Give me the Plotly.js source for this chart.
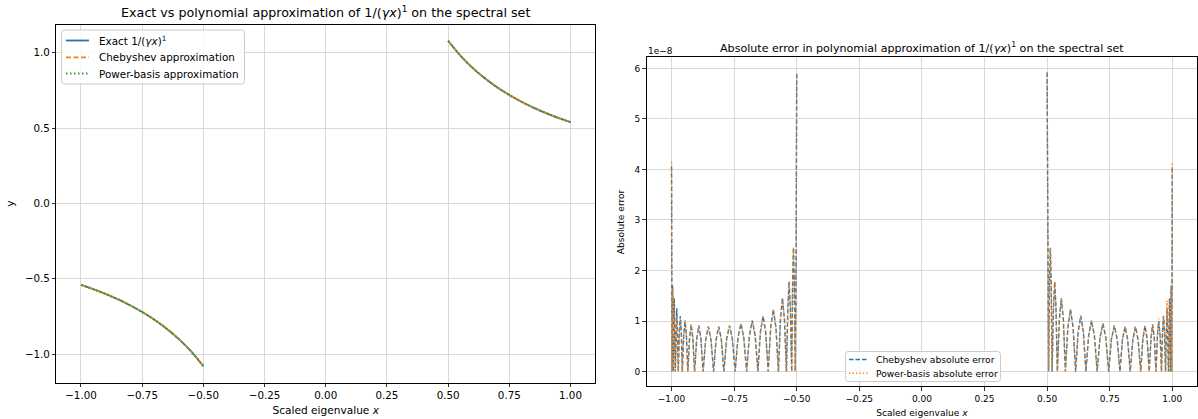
<!DOCTYPE html>
<html>
<head>
<meta charset="utf-8">
<script src="https://cdn.plot.ly/plotly-3.0.1.min.js"></script>
<style>
html,body{margin:0;padding:0;background:#fff;overflow:hidden;}
#chart{width:1198px;height:419px;}
</style>
</head>
<body>
<div id="chart"></div>
<script>
// ---------- Left panel: function values ----------
const curveX_neg = [-1.00,-0.95,-0.90,-0.85,-0.80,-0.75,-0.70,-0.65,-0.60,-0.55,-0.50];
const curveX_pos = [0.50,0.55,0.60,0.65,0.70,0.75,0.80,0.85,0.90,0.95,1.00];
const exactY_neg = [-0.540,-0.568,-0.600,-0.635,-0.675,-0.720,-0.771,-0.831,-0.900,-0.982,-1.080];
const exactY_pos = [1.080,0.982,0.900,0.831,0.771,0.720,0.675,0.635,0.600,0.568,0.540];
const chebY_neg  = [-0.540,-0.568,-0.600,-0.635,-0.675,-0.720,-0.771,-0.831,-0.900,-0.982,-1.080];
const chebY_pos  = [1.080,0.982,0.900,0.831,0.771,0.720,0.675,0.635,0.600,0.568,0.540];
const powY_neg   = [-0.540,-0.568,-0.600,-0.635,-0.675,-0.720,-0.771,-0.831,-0.900,-0.982,-1.080];
const powY_pos   = [1.080,0.982,0.900,0.831,0.771,0.720,0.675,0.635,0.600,0.568,0.540];

// ---------- Right panel: absolute errors (units of 1e-8) ----------
const errX_neg = [-1.000,-0.998,-0.9955,-0.993,-0.989,-0.985,-0.979,-0.973,
  -0.969,-0.965,-0.961,-0.957,
  -0.9515,-0.946,-0.9405,-0.935,
  -0.928,-0.9215,-0.915,-0.908,
  -0.8995,-0.891,-0.8825,-0.874,
  -0.8635,-0.853,-0.8425,-0.832,
  -0.822,-0.8115,-0.801,-0.791,
  -0.780,-0.7685,-0.757,-0.746,
  -0.7345,-0.723,-0.7115,-0.700,
  -0.689,-0.6775,-0.666,-0.655,
  -0.645,-0.6345,-0.624,-0.614,
  -0.604,-0.5935,-0.583,-0.573,
  -0.565,-0.557,-0.549,-0.541,
  -0.5355,-0.5305,-0.5255,-0.520,
  -0.5165,-0.513,-0.5095,-0.506,
  -0.5025,-0.500];
const chebErr_neg = [4.05,0,1.70,0,1.45,0,1.25,0,
  0.78,1.10,0.78,0,
  0.70,1.00,0.70,0,
  0.66,0.93,0.66,0,
  0.64,0.91,0.64,0,
  0.63,0.89,0.63,0,
  0.63,0.89,0.63,0,
  0.64,0.91,0.64,0,
  0.67,0.95,0.67,0,
  0.71,1.01,0.71,0,
  0.78,1.10,0.78,0,
  0.87,1.23,0.87,0,
  1.03,1.45,1.03,0,
  1.26,1.78,1.26,0,
  1.73,2.45,1.73,0,
  2.20,5.92];
const powErr_neg = [4.15,0,1.62,0,1.42,0,1.05,0,
  0.80,1.05,0.80,0,
  0.72,1.02,0.72,0,
  0.66,0.94,0.66,0,
  0.64,0.91,0.64,0,
  0.63,0.89,0.63,0,
  0.63,0.89,0.63,0,
  0.64,0.91,0.64,0,
  0.67,0.95,0.67,0,
  0.71,1.01,0.71,0,
  0.78,1.10,0.78,0,
  0.87,1.23,0.87,0,
  1.03,1.45,1.03,0,
  1.26,1.78,1.26,0,
  1.73,2.45,1.73,0,
  2.20,5.92];

const errX_pos = [0.500,0.5025,
  0.506,0.5095,0.513,0.5165,
  0.520,0.5255,0.5305,0.5355,
  0.541,0.549,0.557,0.565,
  0.573,0.583,0.5935,0.604,
  0.614,0.624,0.6345,0.645,
  0.655,0.666,0.6775,0.689,
  0.700,0.7115,0.723,0.7345,
  0.746,0.757,0.7685,0.780,
  0.791,0.801,0.8115,0.822,
  0.832,0.8425,0.853,0.8635,
  0.874,0.8825,0.891,0.8995,
  0.908,0.915,0.9215,0.928,
  0.935,0.9405,0.946,0.9515,
  0.957,0.961,0.965,0.969,
  0.973,0.979,0.985,0.989,0.993,0.9955,0.998,1.000];
const chebErr_pos = [5.92,2.20,
  0,1.73,2.45,1.73,
  0,1.26,1.78,1.26,
  0,1.03,1.45,1.03,
  0,0.87,1.23,0.87,
  0,0.78,1.10,0.78,
  0,0.71,1.01,0.71,
  0,0.67,0.95,0.67,
  0,0.64,0.91,0.64,
  0,0.63,0.89,0.63,
  0,0.63,0.89,0.63,
  0,0.64,0.91,0.64,
  0,0.66,0.93,0.66,
  0,0.70,1.00,0.70,
  0,0.78,1.10,0.78,
  0,1.25,0,1.45,0,1.70,0,4.05];
const powErr_pos = [5.92,2.20,
  0,1.73,2.45,1.73,
  0,1.26,1.78,1.26,
  0,1.03,1.45,1.03,
  0,0.87,1.23,0.87,
  0,0.78,1.10,0.78,
  0,0.71,1.01,0.71,
  0,0.67,0.95,0.67,
  0,0.64,0.91,0.64,
  0,0.63,0.89,0.63,
  0,0.63,0.89,0.63,
  0,0.64,0.91,0.64,
  0,0.66,0.94,0.66,
  0,0.72,1.05,0.72,
  0,0.82,1.12,0.82,
  0,1.40,0,1.42,0,1.62,0,4.12];

const leftNames  = ['Exact 1/(<i>γx</i>)<sup>1</sup>', 'Chebyshev approximation', 'Power-basis approximation'];
const rightNames = ['Chebyshev absolute error', 'Power-basis absolute error'];

const joinXY = (a, b) => a.concat([null], b);

const BLUE = '#1f77b4', ORANGE = '#ff7f0e', GREEN = '#2ca02c';
const FONT = 'DejaVu Sans, sans-serif';
const W = 1198, H = 419;
const px = v => v / W, py = v => 1 - v / H;

const leftStyles = [
  {color: BLUE, width: 1.8, dash: 'solid'},
  {color: ORANGE, width: 1.8, dash: '5px,2.5px'},
  {color: GREEN, width: 1.8, dash: '1.5px,2.5px'}
];
const rightStyles = [
  {color: BLUE, width: 1.4, dash: '4.5px,2px'},
  {color: ORANGE, width: 1.4, dash: '1.3px,2.2px'}
];

const leftY = [joinXY(exactY_neg, exactY_pos), joinXY(chebY_neg, chebY_pos), joinXY(powY_neg, powY_pos)];
const rightY = [joinXY(chebErr_neg, chebErr_pos), joinXY(powErr_neg, powErr_pos)];

const traces = [];
leftY.forEach((yy, i) => traces.push({
  x: joinXY(curveX_neg, curveX_pos), y: yy, type: 'scatter', mode: 'lines', name: leftNames[i],
  line: Object.assign({shape: 'spline'}, leftStyles[i]), xaxis: 'x', yaxis: 'y', showlegend: false
}));
rightY.forEach((yy, i) => traces.push({
  x: joinXY(errX_neg, errX_pos), y: yy, type: 'scatter', mode: 'lines', name: rightNames[i],
  line: rightStyles[i], xaxis: 'x2', yaxis: 'y2', showlegend: false
}));

// rounded legend frame (matplotlib-like)
function roundRect(x0, y0, x1, y1, r) {
  const X = px, Y = py;
  const rx = r / W, ry = r / H;
  return `M ${X(x0) + rx},${Y(y0)} L ${X(x1) - rx},${Y(y0)} Q ${X(x1)},${Y(y0)} ${X(x1)},${Y(y0) - ry} ` +
         `L ${X(x1)},${Y(y1) + ry} Q ${X(x1)},${Y(y1)} ${X(x1) - rx},${Y(y1)} ` +
         `L ${X(x0) + rx},${Y(y1)} Q ${X(x0)},${Y(y1)} ${X(x0)},${Y(y1) + ry} ` +
         `L ${X(x0)},${Y(y0) - ry} Q ${X(x0)},${Y(y0)} ${X(x0) + rx},${Y(y0)} Z`;
}

const shapes = [];
const annotations = [];

// Left legend
shapes.push({type: 'path', xref: 'paper', yref: 'paper', path: roundRect(61.5, 30, 244.5, 84, 3),
  fillcolor: 'rgba(255,255,255,0.8)', line: {color: '#cccccc', width: 1}, layer: 'above'});
const leftRows = [40.5, 57.3, 73.5];
leftNames.forEach((nm, i) => {
  shapes.push({type: 'line', xref: 'paper', yref: 'paper', x0: px(66), x1: px(89), y0: py(leftRows[i]), y1: py(leftRows[i]),
    line: leftStyles[i], layer: 'above'});
  annotations.push({text: nm, xref: 'paper', yref: 'paper', x: px(96.5), y: py(leftRows[i]),
    xanchor: 'left', yanchor: 'middle', showarrow: false, font: {size: 10.4, family: FONT}});
});

// Right legend
shapes.push({type: 'path', xref: 'paper', yref: 'paper', path: roundRect(845.5, 351.5, 1000.5, 381.5, 3),
  fillcolor: 'rgba(255,255,255,0.8)', line: {color: '#cccccc', width: 1}, layer: 'above'});
const rightRows = [359.5, 373.3];
rightNames.forEach((nm, i) => {
  shapes.push({type: 'line', xref: 'paper', yref: 'paper', x0: px(849), x1: px(868), y0: py(rightRows[i]), y1: py(rightRows[i]),
    line: rightStyles[i], layer: 'above'});
  annotations.push({text: nm, xref: 'paper', yref: 'paper', x: px(874), y: py(rightRows[i]),
    xanchor: 'left', yanchor: 'middle', showarrow: false, font: {size: 9.2, family: FONT}});
});

annotations.push(
  {text: 'Absolute error in polynomial approximation of 1/(<i>γx</i>)<sup>1</sup> on the spectral set',
   xref: 'paper', yref: 'paper', x: 0.7695, y: py(47), xanchor: 'center', yanchor: 'middle',
   showarrow: false, font: {size: 11.1, family: FONT}},
  {text: '1e−8', xref: 'paper', yref: 'paper', x: px(646), y: py(51),
   xanchor: 'left', yanchor: 'middle', showarrow: false, font: {size: 9, family: FONT}}
);

const xTicks = [-1, -0.75, -0.5, -0.25, 0, 0.25, 0.5, 0.75, 1];
const axisCommon = {
  showline: true, linecolor: '#000', linewidth: 1, mirror: true,
  ticks: 'outside', ticklen: 3.5, tickcolor: '#000', tickwidth: 0.8,
  showgrid: true, gridcolor: '#cfcfcf', gridwidth: 0.8, zeroline: false,
  automargin: false
};

const layout = {
  width: W, height: H,
  margin: {l: 0, r: 0, t: 0, b: 0},
  paper_bgcolor: '#fff', plot_bgcolor: '#fff',
  font: {family: FONT, color: '#000', size: 10},
  showlegend: false,
  title: {text: 'Exact vs polynomial approximation of 1/(<i>γx</i>)<sup>1</sup> on the spectral set',
          x: 0.2719, xanchor: 'center', y: py(13), yanchor: 'middle', xref: 'paper', yref: 'paper',
          font: {size: 12.7, family: FONT}},
  xaxis: Object.assign({}, axisCommon, {
    domain: [0.04716, 0.49666], range: [-1.1, 1.1], anchor: 'y',
    tickvals: xTicks, tickformat: '.2f', tickfont: {size: 10.3, family: FONT},
    title: {text: 'Scaled eigenvalue <i>x</i>', font: {size: 10.6, family: FONT}, standoff: 6}
  }),
  yaxis: Object.assign({}, axisCommon, {
    domain: [0.0871, 0.9415], range: [-1.188, 1.188], anchor: 'x',
    tickvals: [-1, -0.5, 0, 0.5, 1], tickformat: '.1f', tickfont: {size: 10.3, family: FONT},
    title: {text: 'y', font: {size: 10.6, family: FONT}, standoff: 8}
  }),
  xaxis2: Object.assign({}, axisCommon, {
    domain: [0.53965, 0.99942], range: [-1.1, 1.1], anchor: 'y2',
    tickvals: xTicks, tickformat: '.2f', tickfont: {size: 9, family: FONT},
    title: {text: 'Scaled eigenvalue <i>x</i>', font: {size: 9.1, family: FONT}, standoff: 6}
  }),
  yaxis2: Object.assign({}, axisCommon, {
    domain: [0.0776, 0.8628], range: [-0.296, 6.216], anchor: 'x2',
    tickvals: [0, 1, 2, 3, 4, 5, 6], tickformat: 'd', tickfont: {size: 9, family: FONT},
    title: {text: 'Absolute error', font: {size: 9.1, family: FONT}, standoff: 8}
  }),
  shapes: shapes,
  annotations: annotations
};

Plotly.newPlot('chart', traces, layout, {staticPlot: true, displayModeBar: false});
</script>
</body>
</html>
